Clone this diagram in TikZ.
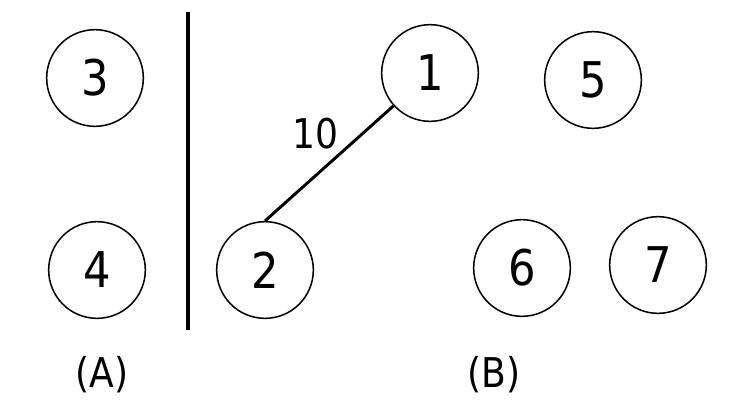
\documentclass[tikz,border=0pt]{standalone}
\usepackage{fontspec}
\setmainfont[FakeStretch=0.88]{DejaVu Sans}
\usepackage{tikz}

\begin{document}
\begin{tikzpicture}[x=0.03cm, y=-0.03cm,
vertex/.style={circle, draw, line width=1.3pt, minimum size=2.9cm, inner sep=0pt, font=\fontsize{42}{46}\selectfont},
caption/.style={font=\fontsize{35}{40}\selectfont}]
\useasboundingbox (0,0) rectangle (734,412);
\node[vertex](3) at (95,78){3};
\node[vertex](4) at (97,270){4};
\node[vertex](1) at (430,73){1};
\node[vertex](2) at (265,270){2};
\node[vertex](5) at (593,80){5};
\node[vertex](6) at (522,268){6};
\node[vertex](7) at (658,265){7};
\coordinate(top) at (188,12);
\coordinate(bottom) at (188,330);
\draw[line width=2.8pt] (top) -- (bottom);
\draw[line width=2.5pt] (1.222) -- (2.north) node[caption, midway, xshift=-0.42cm, yshift=0.9cm]{10};
\node[caption](A) at (102,375){(A)};
\node[caption](B) at (494,375){(B)};
\end{tikzpicture}
\end{document}
